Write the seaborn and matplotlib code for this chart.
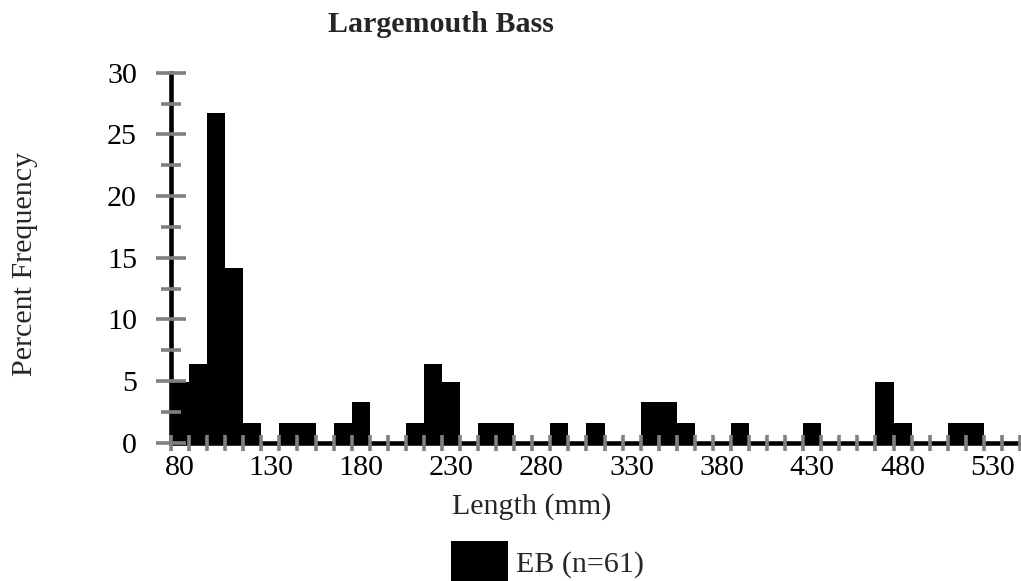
import numpy as np
import pandas as pd
import seaborn as sns
import matplotlib
matplotlib.use("Agg")
import matplotlib.pyplot as plt
from matplotlib.ticker import FixedLocator, MultipleLocator

# ---- data ----
length_bins = list(range(80, 550, 10))  # 80 ... 540
percent_freq = [4.9, 6.4, 26.7, 14.2, 1.6, 0, 1.6, 1.6, 0, 1.6,
                3.3, 0, 0, 1.6, 6.4, 4.9, 0, 1.6, 1.6, 0,
                0, 1.6, 0, 1.6, 0, 0, 3.3, 3.3, 1.6, 0,
                0, 1.6, 0, 0, 0, 1.6, 0, 0, 0, 4.9,
                1.6, 0, 0, 1.6, 1.6, 0, 0]
tick_labels = [str(v) for v in length_bins[::5]]
series_label = "EB (n=61)"
title = "Largemouth Bass"
xlabel = "Length (mm)"
ylabel = "Percent Frequency"

sns.set_style("white")
plt.rcParams["font.family"] = ["Liberation Serif", "DejaVu Serif"]
FS = 21.6

W, H = 1021, 581
fig = plt.figure(figsize=(W / 100, H / 100), dpi=100)
ax = fig.add_axes([171 / W, (H - 442.7) / H, (1020 - 171) / W, 370 / H])

df = pd.DataFrame({"length": [str(v) for v in length_bins], "pct": percent_freq})
sns.barplot(data=df, x="length", y="pct", color="black", width=1.0,
            linewidth=0, saturation=1, ax=ax, label=series_label)
if ax.get_legend() is not None:
    ax.get_legend().remove()

ax.set_xlim(-0.5, len(length_bins) - 0.5)
ax.set_ylim(0, 30)

# x ticks: labels at every 5th bin centre, gray marks at bin boundaries
ax.xaxis.set_major_locator(FixedLocator(list(range(0, len(length_bins), 5))))
ax.set_xticklabels(tick_labels)
ax.xaxis.set_minor_locator(FixedLocator(list(np.arange(-0.5, len(length_bins), 1.0))))
ax.tick_params(axis="x", which="major", length=0, pad=9, labelsize=FS, colors="black")
ax.tick_params(axis="x", which="minor", direction="inout", length=12.2, width=2.6,
               color="#808080", bottom=True)

ax.yaxis.set_major_locator(MultipleLocator(5))
ax.yaxis.set_minor_locator(MultipleLocator(2.5))
ax.tick_params(axis="y", which="major", direction="inout", length=21, width=2.6,
               color="#808080", labelsize=FS, labelcolor="black", pad=14, left=True)
ax.tick_params(axis="y", which="minor", direction="inout", length=14.4, width=2.6,
               color="#808080", left=True)

for s in ["top", "right"]:
    ax.spines[s].set_visible(False)
for s in ["left", "bottom"]:
    ax.spines[s].set_linewidth(3.3)
    ax.spines[s].set_color("black")
ax.spines["left"].set_bounds(0, 30)
ax.xaxis.set_zorder(3)
ax.yaxis.set_zorder(3)
ax.set_xlabel("")
ax.set_ylabel("")

fig.text(441 / W, 1 - 32 / H, title, ha="center", va="baseline",
         fontsize=FS, fontweight="bold")
fig.text(531.7 / W, 1 - 513.3 / H, xlabel, ha="center", va="baseline", fontsize=FS)
fig.text(25 / W, 1 - 264 / H, ylabel, ha="center", va="center", rotation=90, fontsize=FS)

handles, labels = ax.get_legend_handles_labels()
fig.legend(handles[:1], labels[:1], loc="upper left",
           bbox_to_anchor=(450.7 / W, 1 - 541 / H), frameon=False,
           borderpad=0, borderaxespad=0, handlelength=1.9, handleheight=1.75,
           handletextpad=0.29, fontsize=FS)

fig.savefig("out.png", dpi=100)
